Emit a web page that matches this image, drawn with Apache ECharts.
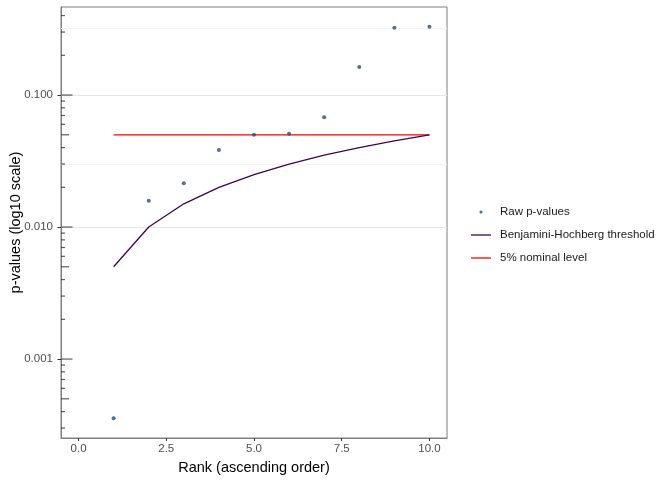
<!DOCTYPE html>
<html>
<head>
<meta charset="utf-8">
<script src="https://cdn.jsdelivr.net/npm/echarts@6/dist/echarts.min.js"></script>
<style>
  html, body { margin: 0; padding: 0; background: #fff; }
  #main { width: 672px; height: 480px; }
</style>
</head>
<body>
<div id="main"></div>
<script>
// data
var ranks = [1, 2, 3, 4, 5, 6, 7, 8, 9, 10];
var rawP = [0.000356, 0.0158, 0.0215, 0.0383, 0.0500, 0.0509, 0.0678, 0.163, 0.324, 0.329];
var bhThreshold = [0.005, 0.010, 0.015, 0.020, 0.025, 0.030, 0.035, 0.040, 0.045, 0.050];
var nominal = [0.05, 0.05, 0.05, 0.05, 0.05, 0.05, 0.05, 0.05, 0.05, 0.05];
var xTicks = [0, 2.5, 5, 7.5, 10];
var yTicks = [0.001, 0.01, 0.1];
var minorGrid = [0.000316, 0.00316, 0.0316, 0.316];
var logTickLong = [0.001, 0.01, 0.1];
var logTickMid = [0.0005, 0.005, 0.05];
var logTickShort = [0.0003, 0.0004, 0.0006, 0.0007, 0.0008, 0.0009,
                    0.002, 0.003, 0.004, 0.006, 0.007, 0.008, 0.009,
                    0.02, 0.03, 0.04, 0.06, 0.07, 0.08, 0.09,
                    0.2, 0.3, 0.4];

var X_MIN = -0.5, X_MAX = 10.5;
var Y_MIN = Math.pow(10, -3.598), Y_MAX = Math.pow(10, -0.333);
var FONT = '"Liberation Sans", Arial, sans-serif';

function pairs(xs, ys) {
  return xs.map(function (x, i) { return [x, ys[i]]; });
}

// annotation_logticks style marks on the left edge
var tickData = [];
logTickLong.forEach(function (v) { tickData.push({ value: [X_MIN, v], len: 11.5 }); });
logTickMid.forEach(function (v) { tickData.push({ value: [X_MIN, v], len: 8 }); });
logTickShort.forEach(function (v) { tickData.push({ value: [X_MIN, v], len: 4 }); });

var chart = echarts.init(document.getElementById('main'));

var option = {
  animation: false,
  textStyle: { fontFamily: FONT },
  grid: {
    left: 61, right: 225, top: 7, bottom: 42,
    containLabel: false, outerBoundsMode: 'none',
    show: true, borderColor: '#7f7f7f', borderWidth: 1, backgroundColor: '#fff'
  },
  legend: {
    orient: 'vertical',
    left: 466, top: 201,
    itemWidth: 20, itemHeight: 12, itemGap: 11,
    textStyle: { fontSize: 11.5, color: '#1a1a1a', fontFamily: FONT, padding: [0, 0, 0, 4] },
    data: [
      { name: 'Raw p-values', icon: 'path://M0,0M20,12M10,4.4a1.6,1.6 0 1,0 0.01,0z' },
      { name: 'Benjamini-Hochberg threshold', icon: 'path://M0,0M20,12M0,5.35L20,5.35L20,6.65L0,6.65Z' },
      { name: '5% nominal level', icon: 'path://M0,0M20,12M0,5.35L20,5.35L20,6.65L0,6.65Z' }
    ]
  },
  xAxis: {
    type: 'value',
    min: X_MIN, max: X_MAX,
    name: 'Rank (ascending order)',
    nameLocation: 'middle', nameGap: 22, nameMoveOverlap: false,
    nameTextStyle: { fontSize: 14.5, color: '#000', fontFamily: FONT },
    axisLine: { show: true, onZero: false, lineStyle: { color: '#7f7f7f', width: 1 } },
    axisTick: { show: true, length: 3, lineStyle: { color: '#333' }, customValues: xTicks },
    axisLabel: {
      color: '#4d4d4d', fontSize: 11.5, margin: 5, customValues: xTicks,
      formatter: function (v) { return v.toFixed(1); }
    },
    splitLine: { show: false }
  },
  yAxis: {
    type: 'log', logBase: 10,
    min: Y_MIN, max: Y_MAX,
    name: 'p-values (log10 scale)',
    nameLocation: 'middle', nameGap: 38, nameMoveOverlap: false,
    nameTextStyle: { fontSize: 14.5, color: '#000', fontFamily: FONT },
    axisLine: { show: true, onZero: false, lineStyle: { color: '#7f7f7f', width: 1 } },
    axisTick: { show: true, length: 3.5, lineStyle: { color: '#333' }, customValues: yTicks },
    axisLabel: {
      color: '#4d4d4d', fontSize: 11.5, margin: 8, customValues: yTicks,
      formatter: function (v) { return v.toFixed(3); }
    },
    splitLine: { show: false }
  },
  series: [
    {
      name: 'grid', type: 'line', data: [], z: 1, silent: true,
      markLine: {
        z: 1,
        silent: true, symbol: ['none', 'none'], label: { show: false },
        animation: false,
        data: yTicks.map(function (v) {
          return { yAxis: v, lineStyle: { color: '#e6e6e6', width: 1, type: 'solid' } };
        }).concat(minorGrid.map(function (v) {
          return { yAxis: v, lineStyle: { color: '#f2f2f2', width: 1, type: 'solid' } };
        }))
      }
    },
    {
      name: 'logticks', type: 'scatter', z: 5, silent: true, clip: false,
      symbol: 'rect',
      symbolSize: function (val, p) { return [tickData[p.dataIndex].len, 1.2]; },
      symbolOffset: function (val, p) { return [tickData[p.dataIndex].len / 2, 0]; },
      itemStyle: { color: '#333' },
      data: tickData.map(function (d) { return d.value; })
    },
    {
      name: '5% nominal level', type: 'line', z: 3,
      symbol: 'none',
      lineStyle: { color: '#ff0000', width: 1.3 },
      itemStyle: { color: '#ff0000' },
      data: pairs(ranks, nominal)
    },
    {
      name: 'Benjamini-Hochberg threshold', type: 'line', z: 3,
      symbol: 'none',
      lineStyle: { color: '#440154', width: 1.3 },
      itemStyle: { color: '#440154' },
      data: pairs(ranks, bhThreshold)
    },
    {
      name: 'Raw p-values', type: 'scatter', z: 4,
      symbol: 'circle', symbolSize: 4,
      itemStyle: { color: '#1f4e79' },
      data: pairs(ranks, rawP)
    }
  ]
};

chart.setOption(option);
</script>
</body>
</html>
